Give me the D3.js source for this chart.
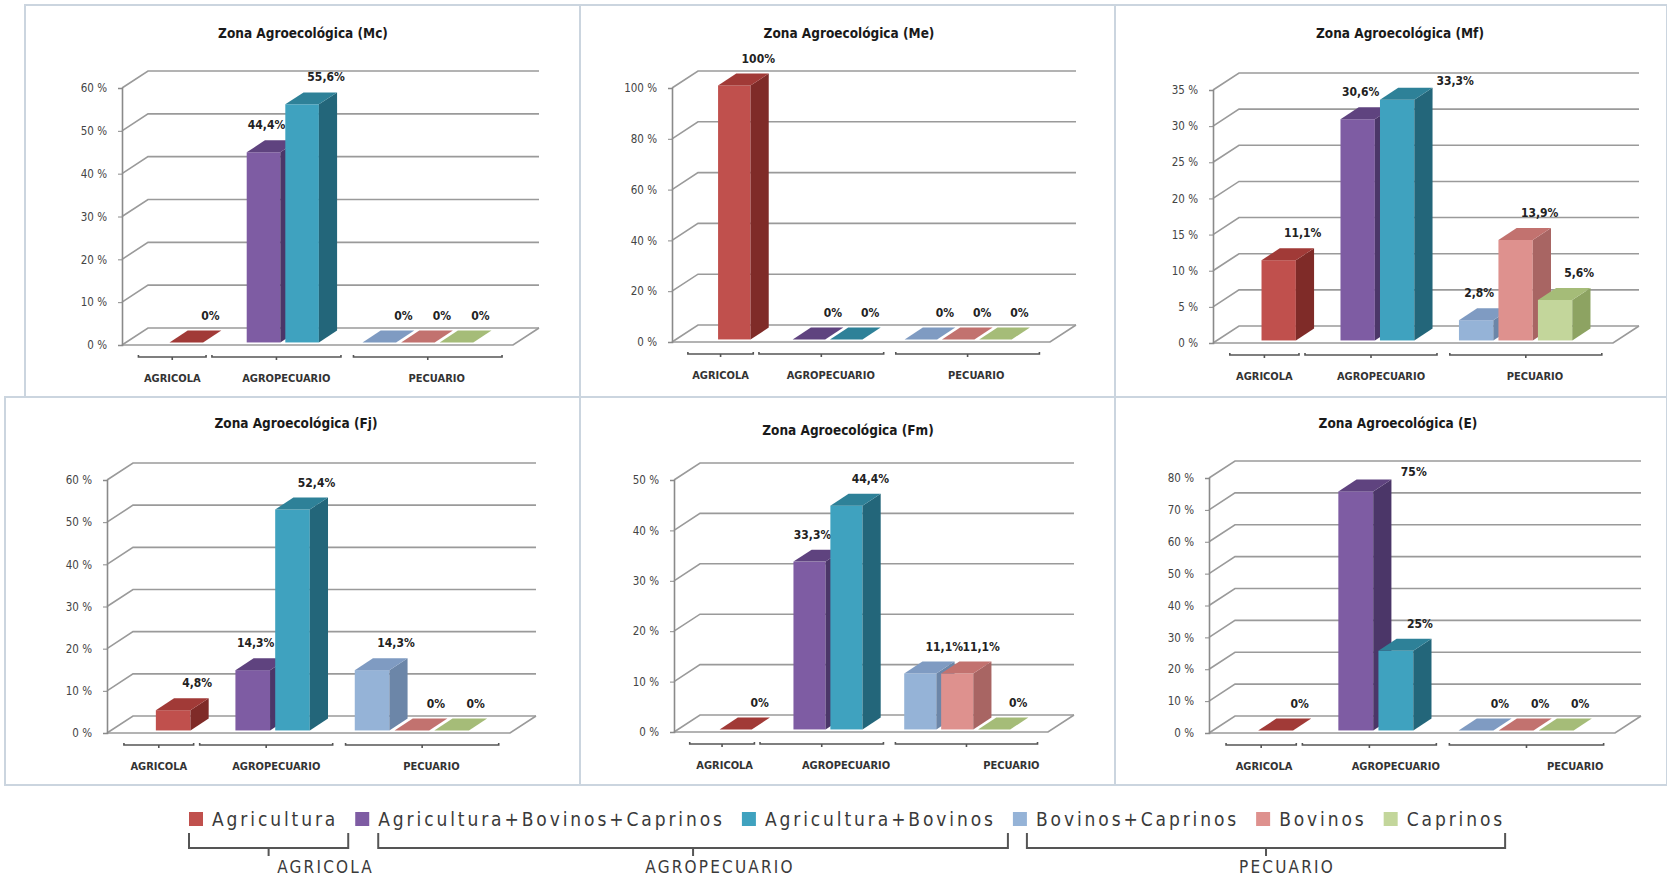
<!DOCTYPE html>
<html>
<head>
<meta charset="utf-8">
<script src="https://cdn.jsdelivr.net/npm/d3@7"></script>
<style>
  body { margin: 0; background: #fff; }
  text { font-family: "Liberation Sans Narrow", "DejaVu Sans Condensed", "Open Sans", sans-serif; }
</style>
</head>
<body>
<script>
const svgWidth = 1667;
const svgHeight = 881;

// data
const zones = ['Mc', 'Me', 'Mf', 'Fj', 'Fm', 'E'];
const series = ['Agricultura', 'Agricultura+Bovinos+Caprinos', 'Agricultura+Bovinos',
                'Bovinos+Caprinos', 'Bovinos', 'Caprinos'];
const groups = ['AGRICOLA', 'AGROPECUARIO', 'PECUARIO'];
const seriesGroup = [0, 1, 1, 2, 2, 2];
const valuesMc = [0, 44.4, 55.6, 0, 0, 0];
const valuesMe = [100, 0, 0, 0, 0, 0];
const valuesMf = [11.1, 30.6, 33.3, 2.8, 13.9, 5.6];
const valuesFj = [4.8, 14.3, 52.4, 14.3, 0, 0];
const valuesFm = [0, 33.3, 44.4, 11.1, 11.1, 0];
const valuesE = [0, 75, 25, 0, 0, 0];
const axisMax = [60, 100, 35, 60, 50, 80];
const axisStep = [10, 20, 5, 10, 10, 10];
const allValues = [valuesMc, valuesMe, valuesMf, valuesFj, valuesFm, valuesE];

// colours: front, side, top
const colors = [
  ['#c0504d', '#7f2b28', '#a13a37'],
  ['#7e5ca3', '#4b3668', '#5f437f'],
  ['#3fa2bf', '#23667a', '#2e8198'],
  ['#95b3d7', '#6c86a8', '#7f9bc2'],
  ['#de918e', '#a86563', '#c2726f'],
  ['#c3d69b', '#8da362', '#a5bc78']
];

// panel placement
const panels = [
  {frame: [25, 5, 555, 392],     titleX: 303,  titleY: 33,  x0: 122,  w: 391, yTop: 88,  yBase: 345, wideLabels: false},
  {frame: [580, 5, 535, 392],    titleX: 849,  titleY: 33,  x0: 672,  w: 378, yTop: 88,  yBase: 342, wideLabels: false},
  {frame: [1115, 5, 552, 392],   titleX: 1400, titleY: 33,  x0: 1213, w: 400, yTop: 90,  yBase: 343, wideLabels: false},
  {frame: [5, 397, 575, 388],    titleX: 296,  titleY: 423, x0: 107,  w: 403, yTop: 480, yBase: 733, wideLabels: false},
  {frame: [580, 397, 535, 388],  titleX: 848,  titleY: 430, x0: 674,  w: 374, yTop: 480, yBase: 732, wideLabels: true},
  {frame: [1115, 397, 552, 388], titleX: 1398, titleY: 423, x0: 1209, w: 406, yTop: 478, yBase: 733, wideLabels: true}
];
const depthX = 26, depthY = -17;
const f0 = 0.15, f1 = 0.85;
// category brackets in slot units, and where the names sit
const bracketSpan = [[0.42, 2.15], [2.3, 5.6], [5.92, 9.72]];
const nameShift = [0, 0.25, 0.23];
const nameShiftWide = [0.07, 0.65, 1.2];

const svg = d3.select('body')
              .append('svg')
              .attr('width', svgWidth)
              .attr('height', svgHeight);

const fmt = v => (Number.isInteger(v) ? v : v.toFixed(1).replace('.', ',')) + '%';
const slotOf = i => i + seriesGroup[i] + 1;

zones.forEach((zone, zi) => {
  const p = panels[zi];
  const values = allValues[zi];
  const g = svg.append('g');

  g.append('rect')
    .attr('x', p.frame[0]).attr('y', p.frame[1])
    .attr('width', p.frame[2]).attr('height', p.frame[3])
    .attr('fill', '#fff').attr('stroke', '#cbd5df').attr('stroke-width', 2);

  g.append('text')
    .attr('x', p.titleX).attr('y', p.titleY + 5)
    .attr('text-anchor', 'middle')
    .style('font-size', '13.5px').style('font-weight', 'bold').attr('fill', '#1a1a1a')
    .text('Zona Agroecológica (' + zone + ')');

  const y = d3.scaleLinear().domain([0, axisMax[zi]]).range([p.yBase, p.yTop]);
  const x = d3.scaleBand().domain(d3.range(10)).range([p.x0, p.x0 + p.w]).padding(0.13);
  const ticks = d3.range(0, axisMax[zi] + axisStep[zi] / 2, axisStep[zi]);
  const step = p.w / 10;

  // back wall gridlines with the left-wall diagonals
  g.selectAll('.grid').data(ticks).enter().append('path')
    .attr('d', t => `M${p.x0},${y(t)} L${p.x0 + depthX},${y(t) + depthY} L${p.x0 + p.w + depthX},${y(t) + depthY}`)
    .attr('fill', 'none').attr('stroke', '#9a9a9a').attr('stroke-width', 1.6);

  // floor
  g.append('path')
    .attr('d', `M${p.x0},${p.yBase} L${p.x0 + p.w},${p.yBase} L${p.x0 + p.w + depthX},${p.yBase + depthY}`)
    .attr('fill', 'none').attr('stroke', '#9a9a9a').attr('stroke-width', 1.6);

  // value axis
  const axis = g.append('g')
    .attr('transform', `translate(${p.x0},0)`)
    .call(d3.axisLeft(y).tickValues(ticks).tickSize(4).tickPadding(11).tickFormat(t => t + ' %'));
  axis.select('.domain').attr('stroke', '#8a8a8a').attr('stroke-width', 1.6);
  axis.selectAll('.tick line').attr('stroke', '#8a8a8a');
  axis.selectAll('.tick text')
    .attr('fill', '#444').style('font-size', '11.5px')
    .style('font-family', '"Liberation Sans Narrow", "DejaVu Sans Condensed", sans-serif');

  // bars
  values.forEach((v, i) => {
    const bx = x(slotOf(i)), bw = x.bandwidth();
    const fx = depthX * f0, fy = depthY * f0, kx = depthX * f1, ky = depthY * f1;
    const yT = y(v);
    const c = colors[i];
    if (v > 0) {
      g.append('rect')
        .attr('x', bx + fx).attr('y', yT + fy)
        .attr('width', bw).attr('height', p.yBase - yT)
        .attr('fill', c[0]);
      g.append('path')
        .attr('d', `M${bx + bw + fx},${yT + fy} L${bx + bw + kx},${yT + ky} L${bx + bw + kx},${p.yBase + ky} L${bx + bw + fx},${p.yBase + fy}Z`)
        .attr('fill', c[1]);
    }
    g.append('path')
      .attr('d', `M${bx + fx},${yT + fy} L${bx + bw + fx},${yT + fy} L${bx + bw + kx},${yT + ky} L${bx + kx},${yT + ky}Z`)
      .attr('fill', c[2]);

    // label placement like the spreadsheet did it
    const next = i + 1 < values.length && seriesGroup[i + 1] === seriesGroup[i] ? values[i + 1] : -1;
    const ratio = v / axisMax[zi];
    let off = next > v ? 3 : 24;
    let ly = yT + ky - 11;
    if (ratio > 0.93 && ratio < 1) { off = 58; ly = yT + ky - 3; }
    g.append('text')
      .attr('x', bx + fx + bw / 2 + off).attr('y', ly)
      .attr('text-anchor', 'middle')
      .style('font-size', '12px').style('font-weight', 'bold').attr('fill', '#222')
      .text(fmt(v));
  });

  // category brackets
  groups.forEach((name, gi) => {
    const a = p.x0 + bracketSpan[gi][0] * step;
    const b = p.x0 + bracketSpan[gi][1] * step;
    const m = (a + b) / 2;
    const by = p.yBase + 12;
    g.append('path')
      .attr('d', `M${a},${by - 2} L${a},${by} L${b},${by} L${b},${by - 2} M${m},${by} L${m},${by + 3}`)
      .attr('fill', 'none').attr('stroke', '#555').attr('stroke-width', 1.6);
    const shift = (p.wideLabels ? nameShiftWide : nameShift)[gi] * step;
    g.append('text')
      .attr('x', m + shift).attr('y', p.yBase + 37)
      .attr('text-anchor', 'middle')
      .style('font-size', '11px').style('font-weight', 'bold').attr('fill', '#333')
      .text(name);
  });
});

// legend
const legend = svg.append('g');
let lx = 189;
const ly = 819;
const itemBounds = [];
series.forEach((s, i) => {
  legend.append('rect')
    .attr('x', lx).attr('y', ly - 7).attr('width', 14).attr('height', 14)
    .attr('fill', colors[i][0]);
  const t = legend.append('text')
    .attr('x', lx + 23).attr('y', ly + 7)
    .style('font-size', '19px').style('letter-spacing', '2.9px').attr('fill', '#3a3a3a')
    .text(s);
  const end = lx + 23 + t.node().getComputedTextLength();
  itemBounds.push([lx, lx + 23, end]);
  lx = end + 17;
});

const braceStart = [0, 0, -9];
const braceEnd = [10, 12, 0];
const labelNudge = [57, 27, 21];
groups.forEach((name, gi) => {
  const idx = series.map((s, i) => i).filter(i => seriesGroup[i] === gi);
  const first = itemBounds[idx[0]], last = itemBounds[idx[idx.length - 1]];
  const a = gi === 0 ? first[0] : first[1] + braceStart[gi];
  const b = last[2] + braceEnd[gi];
  const m = (a + b) / 2;
  legend.append('path')
    .attr('d', `M${a},833 L${a},848 L${b},848 L${b},833 M${m},848 L${m},856`)
    .attr('fill', 'none').attr('stroke', '#555').attr('stroke-width', 2);
  legend.append('text')
    .attr('x', m + labelNudge[gi]).attr('y', 873)
    .attr('text-anchor', 'middle')
    .style('font-size', '17px').style('letter-spacing', '2.2px').attr('fill', '#3a3a3a')
    .text(name);
});
</script>
</body>
</html>
